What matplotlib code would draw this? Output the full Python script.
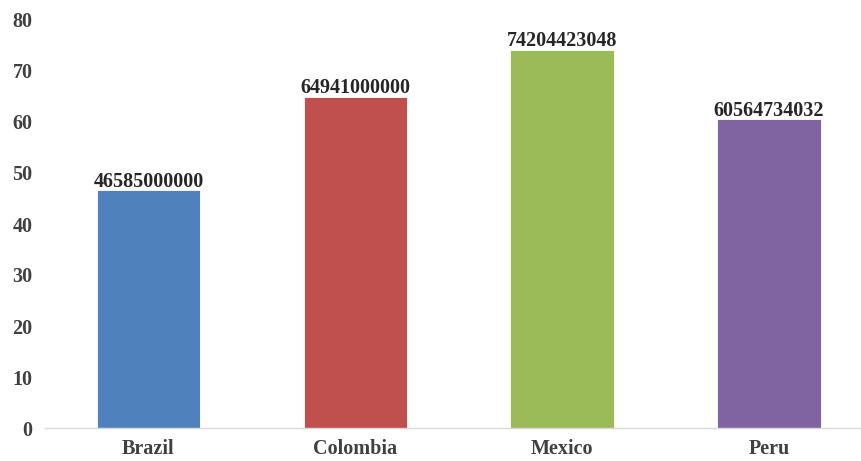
import numpy as np
import matplotlib
matplotlib.use('Agg')
import matplotlib.pyplot as plt

# data
countries = ['Brazil', 'Colombia', 'Mexico', 'Peru']
values = [46585000000, 64941000000, 74204423048, 60564734032]
colors = ['#4F81BD', '#C0504D', '#9BBB59', '#8064A2']
yticks = [0, 10, 20, 30, 40, 50, 60, 70, 80]

plt.rcParams['font.family'] = ['Liberation Serif', 'DejaVu Serif']
plt.rcParams['font.weight'] = 'bold'

fig = plt.figure(figsize=(8.62, 4.61), dpi=100)
ax = fig.add_axes([45/862, 1 - 428/461, 1 - 45/862, (428 - 20)/461])

x = np.arange(len(countries))
heights = np.array(values) / 1e9
bars = ax.bar(x, heights, width=0.5, color=colors, edgecolor='white', linewidth=0.6)

for xi, h, v in zip(x, heights, values):
    ax.annotate(str(v), (xi, h), xytext=(0, -1), textcoords='offset points',
                ha='center', va='bottom', fontsize=14.5,
                fontweight='bold', color='#262626')

ax.set_xlim(-0.5, 3.45)
ax.set_ylim(0, 80)
ax.set_yticks(yticks)
ax.set_xticks(x)
ax.set_xticklabels(countries)
ax.tick_params(axis='y', length=0, pad=9, labelsize=14.5, labelcolor='#404040')
ax.tick_params(axis='x', length=0, pad=8, labelsize=14.5, labelcolor='#404040')
for s in ['top', 'right', 'left']:
    ax.spines[s].set_visible(False)
ax.spines['bottom'].set_color('#D9D9D9')
ax.spines['bottom'].set_linewidth(1.0)

fig.savefig('out.png', dpi=100)
